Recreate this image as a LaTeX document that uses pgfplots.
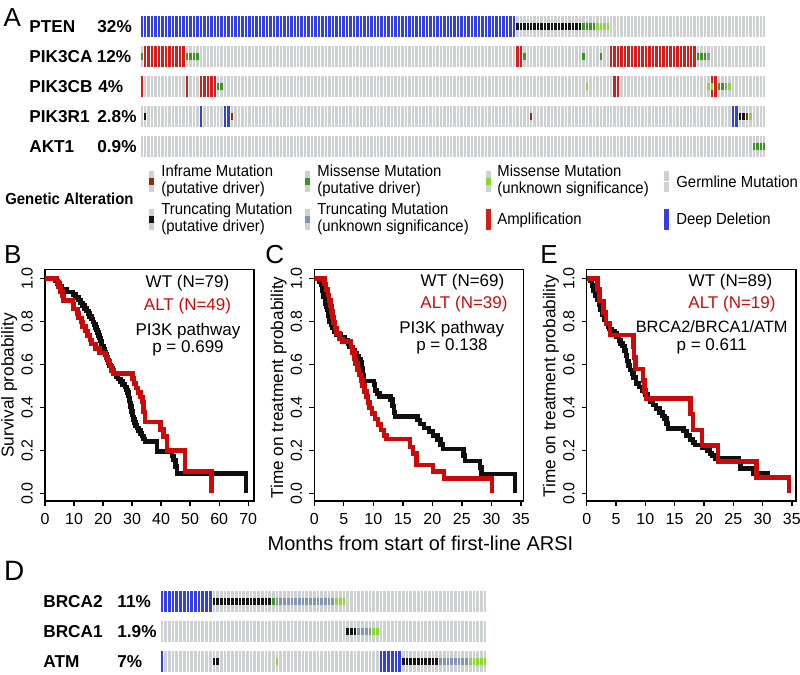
\documentclass[border=0pt]{standalone}
\usepackage{fontspec}
\setmainfont{Liberation Sans}
\newfontfamily\cond[FakeStretch=0.93]{Liberation Sans}
\usepackage{pgfplots}
\pgfplotsset{compat=1.18}
\definecolor{cGrey}{RGB}{206,209,209}
\definecolor{cBlue}{RGB}{52,64,222}
\definecolor{cRed}{RGB}{212,30,30}
\definecolor{cDkGreen}{RGB}{58,150,30}
\definecolor{cLtGreen}{RGB}{140,215,50}
\definecolor{cBlack}{RGB}{20,20,20}
\definecolor{cSteel}{RGB}{130,150,178}
\definecolor{cBrown}{RGB}{140,45,20}
\definecolor{kmRed}{RGB}{204,10,10}
\definecolor{kmBlack}{RGB}{15,15,15}
\newcommand{\run}[4]{\addplot[fill=#1,draw=none] coordinates {(#2,-#4)(#2,#4)(#3,#4)(#3,-#4)};}
\pgfplotsset{
  onco/.style={scale only axis, anchor=north west, width=313pt, height=10.5pt,
    xmin=0, xmax=180, ymin=-1, ymax=1, axis on top, xtick={0,1,...,180},
    xticklabel=\empty, ytick=\empty, xmajorgrids, grid style={white, line width=0.5pt},
    major tick length=0pt, axis line style={draw=none}},
  oncoD/.style={onco, width=163.5pt, xmax=88, xtick={0,1,...,88}},
  km/.style={scale only axis, anchor=north west, height=115.85pt,
    ymin=-0.036, ymax=1.042, ytick={0,0.2,0.4,0.6,0.8,1},
    axis line style={line width=0.75pt}, tick style={black, line width=0.65pt},
    tick align=outside, major tick length=2.6pt, xtick pos=left, ytick pos=left,
    tick label style={font=\fontsize{8}{9}\selectfont},
    /pgf/number format/assume math mode=true,
    yticklabel style={rotate=90, anchor=south, /pgf/number format/fixed,
      /pgf/number format/fixed zerofill, /pgf/number format/precision=1}},
  kmb/.style={kmBlack, line width=2.3pt, const plot},
  kmr/.style={kmRed, line width=2.3pt, const plot},
}
\newcommand{\gene}{\fontsize{8.6pt}{10pt}\selectfont\bfseries}
\newcommand{\leg}{\cond\fontsize{8pt}{9pt}\selectfont}
\newcommand{\ann}{\fontsize{8.5pt}{10pt}\selectfont}
\newcommand{\panel}{\fontsize{13pt}{15pt}\selectfont}
\begin{document}
\begin{tikzpicture}
\useasboundingbox (0,0) rectangle (400pt,-337.5pt);
% ---------------- Panel A oncoprint ----------------
\begin{axis}[onco, at={(70pt,-8pt)}]
\run{cGrey}{0}{180}{1}
\run{cBlue}{0}{108}{1}
\run{cBlack}{108}{127}{0.33}
\run{cDkGreen}{127}{131}{0.33}
\run{cLtGreen}{131}{135}{0.33}
\end{axis}
\begin{axis}[onco, at={(70pt,-23pt)}]
\run{cGrey}{0}{180}{1}
\run{cDkGreen}{0}{1}{0.33}
\run{cRed}{1}{13}{1}
\run{cDkGreen}{13}{17}{0.33}
\run{cRed}{108}{110}{1}
\run{cDkGreen}{110}{111}{0.33}
\run{cDkGreen}{127}{128}{0.33}
\run{cDkGreen}{132}{133}{0.33}
\run{cRed}{135}{160}{1}
\run{cDkGreen}{160}{163}{0.33}
\run{cSteel}{163}{164}{0.33}
\end{axis}
\begin{axis}[onco, at={(70pt,-38pt)}]
\run{cGrey}{0}{180}{1}
\run{cRed}{0}{1}{1}
\run{cRed}{13}{14}{1}
\run{cRed}{17}{22}{1}
\run{cDkGreen}{22}{24}{0.33}
\run{cLtGreen}{128}{129}{0.33}
\run{cRed}{136}{138}{1}
\run{cLtGreen}{163}{164}{0.33}
\run{cRed}{164}{166}{1}
\run{cLtGreen}{164}{165}{0.33}
\run{cDkGreen}{166}{168}{0.33}
\run{cSteel}{168}{169}{0.33}
\run{cLtGreen}{169}{170}{0.33}
\end{axis}
\begin{axis}[onco, at={(70pt,-53pt)}]
\run{cGrey}{0}{180}{1}
\run{cBlack}{1}{2}{0.33}
\run{cBlue}{17}{18}{1}
\run{cBlue}{24}{26}{1}
\run{cBrown}{26}{27}{0.33}
\run{cBrown}{112}{113}{0.33}
\run{cBlue}{170}{172}{1}
\run{cBlack}{172}{174}{0.33}
\run{cBrown}{174}{175}{0.33}
\run{cLtGreen}{175}{176}{0.33}
\end{axis}
\begin{axis}[onco, at={(70pt,-68pt)}]
\run{cGrey}{0}{180}{1}
\run{cDkGreen}{176}{180}{0.33}
\end{axis}
% gene labels A
\node[anchor=base west, inner sep=0pt, font=\gene] at (14.5pt,-16.3pt) {PTEN};
\node[anchor=base west, inner sep=0pt, font=\gene] at (48.5pt,-16.3pt) {32\%};
\node[anchor=base west, inner sep=0pt, font=\gene] at (14.5pt,-31.3pt) {PIK3CA};
\node[anchor=base west, inner sep=0pt, font=\gene] at (48.2pt,-31.3pt) {12\%};
\node[anchor=base west, inner sep=0pt, font=\gene] at (14.5pt,-46.3pt) {PIK3CB};
\node[anchor=base west, inner sep=0pt, font=\gene] at (49pt,-46.3pt) {4\%};
\node[anchor=base west, inner sep=0pt, font=\gene] at (14.5pt,-61.3pt) {PIK3R1};
\node[anchor=base west, inner sep=0pt, font=\gene] at (48.5pt,-61.3pt) {2.8\%};
\node[anchor=base west, inner sep=0pt, font=\gene] at (14.5pt,-76.3pt) {AKT1};
\node[anchor=base west, inner sep=0pt, font=\gene] at (48.5pt,-76.3pt) {0.9\%};
\node[anchor=base west, inner sep=0pt, font=\panel] at (1.6pt,-13.35pt) {A};
% ---------------- Legend ----------------
\node[anchor=base west, inner sep=0pt, font=\leg\bfseries] at (2.5pt,-102pt) {Genetic Alteration};
\fill[cGrey] (74.5pt,-85.5pt) rectangle (77pt,-96pt);
\fill[cBrown] (74.5pt,-89pt) rectangle (77pt,-92.5pt);
\fill[cGrey] (74.5pt,-104.5pt) rectangle (77pt,-115pt);
\fill[cBlack] (74.5pt,-108pt) rectangle (77pt,-111.5pt);
\fill[cGrey] (152.5pt,-85.5pt) rectangle (155pt,-96pt);
\fill[cDkGreen] (152.5pt,-89pt) rectangle (155pt,-92.5pt);
\fill[cGrey] (152.5pt,-104.5pt) rectangle (155pt,-115pt);
\fill[cSteel] (152.5pt,-108pt) rectangle (155pt,-111.5pt);
\fill[cGrey] (243pt,-85.5pt) rectangle (245.5pt,-96pt);
\fill[cLtGreen] (243pt,-89pt) rectangle (245.5pt,-92.5pt);
\fill[cRed] (243pt,-104.5pt) rectangle (245.5pt,-115pt);
\fill[cGrey] (332pt,-85.5pt) rectangle (334.5pt,-96pt);
\fill[white] (332pt,-90.5pt) rectangle (334.5pt,-91pt);
\fill[cBlue] (332pt,-104.5pt) rectangle (334.5pt,-115pt);
\node[anchor=base west, inner sep=0pt, font=\leg] at (80.5pt,-88pt) {Inframe Mutation};
\node[anchor=base west, inner sep=0pt, font=\leg] at (80.5pt,-96.5pt) {(putative driver)};
\node[anchor=base west, inner sep=0pt, font=\leg] at (80.5pt,-107pt) {Truncating Mutation};
\node[anchor=base west, inner sep=0pt, font=\leg] at (80.5pt,-115.5pt) {(putative driver)};
\node[anchor=base west, inner sep=0pt, font=\leg] at (158.5pt,-88pt) {Missense Mutation};
\node[anchor=base west, inner sep=0pt, font=\leg] at (158.5pt,-96.5pt) {(putative driver)};
\node[anchor=base west, inner sep=0pt, font=\leg] at (158.5pt,-107pt) {Truncating Mutation};
\node[anchor=base west, inner sep=0pt, font=\leg] at (158.5pt,-115.5pt) {(unknown significance)};
\node[anchor=base west, inner sep=0pt, font=\leg] at (248.5pt,-88pt) {Missense Mutation};
\node[anchor=base west, inner sep=0pt, font=\leg] at (248.5pt,-96.5pt) {(unknown significance)};
\node[anchor=base west, inner sep=0pt, font=\leg] at (248.5pt,-112pt) {Amplification};
\node[anchor=base west, inner sep=0pt, font=\leg] at (338pt,-93.5pt) {Germline Mutation};
\node[anchor=base west, inner sep=0pt, font=\leg] at (338pt,-112pt) {Deep Deletion};
% ---------------- Panel B ----------------
\begin{axis}[km, at={(22.5pt,-134.65pt)}, width=104.5pt, xmin=0, xmax=72, xtick={0,10,...,70}]
\addplot[kmb] coordinates {(0,1)(3.6,0.987)(4.3,0.975)(5.0,0.962)(5.8,0.949)(7.5,0.937)(9.6,0.924)(10.6,0.911)(11.5,0.899)(12.3,0.886)(12.9,0.873)(13.6,0.861)(14.3,0.848)(14.9,0.835)(15.4,0.823)(16.0,0.810)(16.5,0.797)(16.9,0.785)(17.3,0.772)(17.7,0.759)(18.1,0.747)(18.4,0.734)(18.8,0.722)(19.1,0.709)(19.4,0.696)(19.7,0.684)(20.1,0.671)(20.5,0.658)(20.9,0.646)(21.2,0.633)(21.5,0.620)(21.9,0.608)(22.3,0.595)(22.8,0.582)(23.3,0.570)(23.8,0.557)(24.5,0.544)(25.2,0.532)(26.0,0.519)(26.8,0.506)(27.5,0.494)(28.0,0.481)(28.4,0.468)(28.7,0.456)(28.9,0.443)(29.1,0.430)(29.3,0.418)(29.5,0.405)(29.7,0.392)(29.9,0.380)(30.1,0.367)(30.3,0.354)(30.5,0.342)(30.8,0.329)(31.2,0.316)(31.7,0.304)(32.3,0.291)(32.9,0.278)(33.4,0.266)(34.0,0.253)(34.5,0.240)(38.6,0.193)(43.8,0.174)(44.3,0.155)(44.9,0.124)(45.5,0.093)(69.3,0)};
\addplot[kmr] coordinates {(0,1)(4.2,0.98)(4.6,0.959)(5.3,0.939)(6.0,0.918)(6.3,0.898)(9.6,0.878)(9.9,0.857)(11.3,0.837)(11.6,0.816)(12.5,0.796)(13.0,0.776)(14.0,0.755)(14.7,0.735)(15.5,0.714)(16.0,0.694)(17.5,0.673)(18.7,0.653)(21.0,0.633)(21.7,0.612)(22.4,0.592)(23.0,0.571)(23.5,0.557)(30.1,0.535)(30.6,0.51)(31.4,0.49)(32.0,0.469)(32.8,0.447)(33.5,0.425)(34.0,0.379)(34.4,0.332)(39.8,0.298)(40.9,0.263)(42.0,0.2)(48.3,0.1)(57.4,0)};
\end{axis}
% ---------------- Panel C ----------------
\begin{axis}[km, at={(157.15pt,-134.65pt)}, width=104.5pt, xmin=0, xmax=35.4, xtick={0,5,...,35}]
\addplot[kmb] coordinates {(0,1)(0.9,0.986)(1.2,0.971)(1.4,0.942)(1.6,0.913)(1.8,0.884)(2.0,0.870)(2.2,0.855)(2.4,0.826)(2.6,0.797)(2.9,0.783)(3.1,0.768)(3.4,0.754)(3.8,0.739)(4.5,0.725)(5.2,0.710)(5.7,0.696)(6.0,0.681)(6.4,0.667)(6.8,0.652)(7.2,0.638)(7.5,0.623)(7.8,0.609)(8.0,0.580)(8.2,0.551)(8.4,0.522)(10.1,0.507)(10.3,0.478)(10.6,0.464)(11.0,0.449)(12.9,0.435)(13.2,0.406)(13.5,0.377)(13.7,0.357)(17.5,0.340)(17.9,0.322)(18.6,0.304)(19.4,0.286)(20.1,0.268)(20.9,0.250)(21.4,0.228)(21.8,0.206)(25.3,0.176)(25.5,0.150)(28.1,0.120)(28.3,0.090)(34.0,0)};
\addplot[kmr] coordinates {(0,1)(1.7,0.974)(2.0,0.949)(2.3,0.923)(2.5,0.897)(2.7,0.872)(2.9,0.846)(3.1,0.821)(3.3,0.795)(3.5,0.769)(3.8,0.744)(4.3,0.718)(4.8,0.705)(6.2,0.68)(6.5,0.654)(6.8,0.628)(7.0,0.603)(7.3,0.577)(7.6,0.551)(7.9,0.526)(8.2,0.5)(8.5,0.474)(8.8,0.449)(9.1,0.423)(9.4,0.397)(9.8,0.372)(10.3,0.346)(10.8,0.321)(11.3,0.295)(11.8,0.269)(12.2,0.253)(16.2,0.216)(16.7,0.186)(17.3,0.131)(20.1,0.1)(22.0,0.07)(30.1,0)};
\end{axis}
% ---------------- Panel E ----------------
\begin{axis}[km, at={(293.35pt,-134.65pt)}, width=104.6pt, xmin=0, xmax=35.7, xtick={0,5,...,35}]
\addplot[kmb] coordinates {(0,1)(0.6,0.989)(0.9,0.966)(1.2,0.944)(1.5,0.921)(1.8,0.899)(2.1,0.876)(2.4,0.854)(2.7,0.831)(3.0,0.809)(3.3,0.787)(3.6,0.775)(3.9,0.764)(4.3,0.753)(4.7,0.742)(5.1,0.73)(5.5,0.711)(5.8,0.697)(6.1,0.685)(6.4,0.665)(6.7,0.640)(6.9,0.615)(7.1,0.595)(7.4,0.573)(7.7,0.557)(8.0,0.54)(8.4,0.51)(8.9,0.495)(9.5,0.479)(10.0,0.46)(10.4,0.441)(10.9,0.425)(11.3,0.41)(11.8,0.394)(12.4,0.375)(12.9,0.36)(13.3,0.348)(13.6,0.325)(13.9,0.302)(16.5,0.29)(17.0,0.27)(17.6,0.25)(18.1,0.235)(18.5,0.224)(19.8,0.212)(20.5,0.2)(21.0,0.186)(21.4,0.175)(21.9,0.162)(25.9,0.147)(26.2,0.116)(28.5,0.093)(30.8,0.062)};
\addplot[kmr] coordinates {(0,1)(1.8,0.947)(2.2,0.895)(2.9,0.842)(3.3,0.789)(4.0,0.737)(8.0,0.684)(8.1,0.632)(8.3,0.579)(9.6,0.526)(9.9,0.474)(10.1,0.442)(17.7,0.368)(18.1,0.295)(19.7,0.221)(22.4,0.147)(29.0,0.074)(34.5,0)};
\end{axis}
% KM annotations
\node[anchor=base, inner sep=0pt, font=\ann] at (93.75pt,-143.85pt) {WT (N=79)};
\node[anchor=base, inner sep=0pt, font=\ann, text=kmRed] at (93.75pt,-155pt) {ALT (N=49)};
\node[anchor=base, inner sep=0pt, font=\ann] at (94pt,-167.6pt) {PI3K pathway};
\node[anchor=base, inner sep=0pt, font=\ann] at (94pt,-176.3pt) {p = 0.699};
\node[anchor=base, inner sep=0pt, font=\ann] at (231.25pt,-143pt) {WT (N=69)};
\node[anchor=base, inner sep=0pt, font=\ann, text=kmRed] at (232pt,-154.15pt) {ALT (N=39)};
\node[anchor=base, inner sep=0pt, font=\ann] at (225.85pt,-166.8pt) {PI3K pathway};
\node[anchor=base, inner sep=0pt, font=\ann] at (226pt,-175.3pt) {p = 0.138};
\node[anchor=base, inner sep=0pt, font=\ann] at (365.25pt,-143pt) {WT (N=89)};
\node[anchor=base, inner sep=0pt, font=\ann, text=kmRed] at (366pt,-154.15pt) {ALT (N=19)};
\node[anchor=base, inner sep=0pt, font=\fontsize{8.2pt}{10pt}\selectfont] at (355.85pt,-166.3pt) {BRCA2/BRCA1/ATM};
\node[anchor=base, inner sep=0pt, font=\ann] at (355.85pt,-175.3pt) {p = 0.611};
% axis labels
\node[rotate=90, inner sep=0pt, font=\fontsize{8.6pt}{10pt}\selectfont] at (4.6pt,-192.75pt) {Survival probability};
\node[rotate=90, inner sep=0pt, font=\fontsize{8.6pt}{10pt}\selectfont] at (139.35pt,-193.75pt) {Time on treatment probability};
\node[rotate=90, inner sep=0pt, font=\fontsize{8.6pt}{10pt}\selectfont] at (275.5pt,-193pt) {Time on treatment probability};
\node[anchor=base, inner sep=0pt, font=\fontsize{10pt}{12pt}\selectfont] at (210.25pt,-275.35pt) {Months from start of first-line ARSI};
% panel letters
\node[anchor=base west, inner sep=0pt, font=\panel] at (1.8pt,-131.65pt) {B};
\node[anchor=base west, inner sep=0pt, font=\panel] at (132.5pt,-131.65pt) {C};
\node[anchor=base west, inner sep=0pt, font=\panel] at (270pt,-131.65pt) {E};
\node[anchor=base west, inner sep=0pt, font=\fontsize{14pt}{16pt}\selectfont] at (1.8pt,-290pt) {D};
% ---------------- Panel D oncoprint ----------------
\begin{axis}[oncoD, at={(80pt,-295.5pt)}]
\run{cGrey}{0}{88}{1}
\run{cBlue}{0}{14}{1}
\run{cBlack}{14}{30}{0.33}
\run{cDkGreen}{30}{31}{0.33}
\run{cSteel}{31}{47}{0.33}
\run{cLtGreen}{47}{50}{0.33}
\end{axis}
\begin{axis}[oncoD, at={(80pt,-310.5pt)}]
\run{cGrey}{0}{88}{1}
\run{cBlack}{50}{53}{0.33}
\run{cSteel}{53}{57}{0.33}
\run{cLtGreen}{57}{59}{0.33}
\end{axis}
\begin{axis}[oncoD, at={(80pt,-325.5pt)}]
\run{cGrey}{0}{88}{1}
\run{cBlue}{0}{1}{1}
\run{cBlack}{14}{16}{0.33}
\run{cLtGreen}{31}{32}{0.33}
\run{cBlue}{59}{65}{1}
\run{cBlack}{65}{75}{0.33}
\run{cSteel}{75}{83}{0.33}
\run{cLtGreen}{83}{88}{0.33}
\end{axis}
\node[anchor=base west, inner sep=0pt, font=\gene] at (21.5pt,-303.8pt) {BRCA2};
\node[anchor=base west, inner sep=0pt, font=\gene] at (58.5pt,-303.8pt) {11\%};
\node[anchor=base west, inner sep=0pt, font=\gene] at (21.5pt,-318.8pt) {BRCA1};
\node[anchor=base west, inner sep=0pt, font=\gene] at (58.5pt,-318.8pt) {1.9\%};
\node[anchor=base west, inner sep=0pt, font=\gene] at (21.5pt,-333.8pt) {ATM};
\node[anchor=base west, inner sep=0pt, font=\gene] at (58.5pt,-333.8pt) {7\%};
\end{tikzpicture}
\end{document}
